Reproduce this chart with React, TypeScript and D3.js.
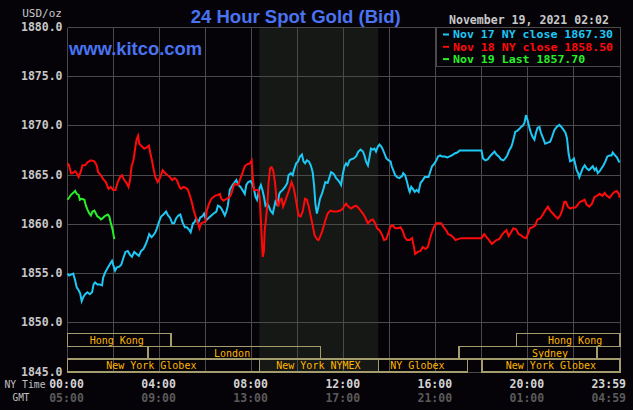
import React from "react";
import * as d3 from "d3";

// ---- data (minutes after NY midnight, price USD/oz) ----
const nov17Series: [number, number][] = [
  [0,1855.0],[4,1854.8],[9,1854.9],[15,1855.0],[20,1854.3],[24,1853.6],[29,1853.3],[33,1853.0],[37,1852.2],[41,1852.6],[46,1852.9],[52,1853.1],[58,1852.9],[64,1853.1],[68,1853.9],[72,1854.1],[78,1853.9],[84,1853.9],[90,1853.8],[93,1854.6],[98,1855.1],[105,1855.6],[111,1856.0],[116,1856.3],[119,1855.9],[124,1855.3],[128,1855.6],[135,1855.7],[140,1855.9],[145,1856.5],[151,1857.2],[157,1857.3],[163,1856.9],[168,1856.7],[174,1857.2],[180,1857.0],[186,1856.8],[192,1857.3],[198,1857.5],[203,1857.9],[208,1858.4],[213,1859.0],[219,1858.7],[224,1858.9],[229,1859.2],[233,1859.6],[238,1860.2],[244,1860.8],[250,1861.0],[257,1861.3],[262,1860.9],[267,1860.7],[273,1860.1],[278,1860.1],[283,1860.6],[289,1860.9],[294,1861.0],[300,1860.2],[306,1859.7],[311,1859.7],[316,1859.5],[321,1859.2],[327,1860.1],[331,1860.2],[335,1860.6],[341,1860.2],[346,1860.7],[351,1860.8],[356,1861.1],[361,1860.4],[369,1860.7],[375,1860.9],[381,1861.1],[388,1861.3],[392,1861.9],[397,1861.8],[401,1861.6],[405,1861.3],[410,1860.9],[414,1861.3],[418,1861.9],[423,1863.5],[430,1864.0],[436,1864.3],[440,1864.5],[445,1864.0],[451,1863.8],[456,1863.5],[462,1863.1],[466,1864.0],[471,1864.3],[477,1864.4],[482,1864.1],[486,1863.6],[490,1862.8],[494,1862.5],[500,1863.6],[504,1864.0],[508,1863.5],[512,1862.8],[516,1861.9],[521,1862.1],[525,1861.8],[529,1861.4],[535,1861.1],[539,1861.8],[543,1862.5],[547,1861.9],[552,1863.1],[555,1863.3],[561,1863.5],[567,1863.8],[573,1864.2],[576,1865.0],[582,1865.2],[587,1865.0],[590,1865.5],[596,1866.2],[601,1866.4],[606,1866.9],[611,1867.1],[615,1866.4],[619,1866.2],[624,1866.5],[629,1866.4],[634,1866.0],[639,1865.3],[643,1863.8],[646,1862.1],[650,1861.1],[654,1861.8],[658,1862.6],[663,1863.1],[667,1863.6],[672,1864.3],[678,1864.2],[683,1864.8],[687,1865.3],[692,1865.2],[696,1865.0],[700,1864.7],[705,1864.5],[709,1864.3],[713,1864.0],[718,1865.2],[722,1865.9],[726,1866.2],[730,1866.0],[735,1866.5],[739,1866.6],[746,1866.7],[752,1866.9],[758,1867.4],[764,1867.6],[770,1867.4],[774,1867.0],[778,1866.4],[783,1866.0],[787,1866.8],[791,1867.7],[796,1867.6],[800,1867.7],[804,1867.4],[809,1867.9],[813,1868.1],[818,1867.9],[822,1867.6],[826,1867.2],[831,1866.7],[837,1866.5],[842,1866.4],[845,1865.9],[851,1865.3],[854,1865.0],[859,1864.8],[865,1864.7],[872,1864.9],[875,1865.2],[880,1865.0],[885,1864.3],[890,1863.5],[892,1863.3],[896,1863.8],[900,1863.6],[905,1863.3],[910,1863.5],[915,1863.3],[920,1864.2],[926,1864.5],[931,1864.8],[936,1864.8],[941,1864.8],[945,1865.3],[950,1865.9],[955,1866.1],[960,1866.4],[966,1866.9],[971,1867.0],[976,1866.9],[983,1866.9],[990,1866.8],[996,1866.9],[1002,1867.0],[1009,1867.2],[1016,1867.3],[1022,1867.5],[1040,1867.5],[1060,1867.5],[1079,1867.5],[1083,1866.7],[1089,1866.5],[1095,1866.6],[1101,1866.9],[1108,1867.2],[1113,1867.4],[1118,1867.1],[1124,1866.9],[1130,1866.6],[1136,1866.5],[1141,1866.7],[1146,1867.0],[1151,1867.5],[1157,1867.9],[1160,1868.3],[1164,1868.9],[1167,1869.4],[1172,1869.5],[1178,1869.7],[1182,1869.9],[1186,1870.0],[1191,1870.3],[1195,1871.1],[1199,1870.6],[1204,1869.8],[1208,1869.3],[1212,1868.9],[1217,1868.6],[1221,1869.3],[1225,1869.8],[1230,1869.9],[1234,1869.3],[1240,1868.7],[1245,1868.2],[1252,1868.3],[1258,1868.4],[1263,1868.9],[1269,1869.6],[1275,1869.9],[1282,1870.1],[1287,1869.9],[1293,1869.6],[1298,1869.3],[1302,1868.7],[1306,1867.2],[1310,1866.4],[1315,1866.5],[1320,1866.7],[1324,1866.0],[1327,1865.5],[1331,1865.2],[1334,1864.8],[1339,1865.3],[1343,1865.7],[1348,1866.0],[1353,1865.7],[1359,1865.5],[1364,1865.7],[1369,1865.9],[1374,1865.5],[1378,1865.7],[1382,1865.2],[1387,1865.4],[1392,1865.7],[1397,1866.0],[1402,1866.4],[1407,1866.9],[1413,1867.0],[1418,1867.0],[1421,1867.3],[1427,1867.0],[1432,1866.8],[1437,1866.4],[1439,1866.3]
];

const nov18Series: [number, number][] = [
  [0,1866.2],[4,1866.0],[9,1865.2],[13,1865.2],[20,1865.4],[24,1865.2],[29,1864.8],[35,1865.4],[39,1866.0],[46,1866.0],[52,1866.3],[61,1866.5],[70,1866.4],[76,1866.0],[80,1865.3],[87,1865.0],[93,1864.6],[100,1864.3],[107,1863.6],[113,1863.8],[119,1863.5],[125,1863.5],[131,1864.3],[137,1864.8],[142,1865.0],[148,1864.5],[154,1864.2],[159,1863.8],[163,1864.5],[167,1865.9],[172,1866.5],[177,1867.9],[180,1868.6],[184,1869.0],[187,1868.2],[194,1867.9],[200,1867.7],[206,1867.8],[212,1868.0],[215,1867.4],[220,1866.5],[225,1865.5],[229,1864.8],[235,1864.3],[241,1864.7],[248,1865.5],[255,1865.2],[261,1865.0],[267,1864.8],[273,1864.5],[279,1864.7],[285,1864.5],[292,1863.8],[296,1863.6],[302,1863.8],[309,1863.7],[314,1863.5],[320,1862.8],[325,1862.1],[329,1861.4],[334,1860.8],[340,1860.1],[344,1859.6],[348,1860.1],[354,1860.2],[360,1860.3],[363,1861.4],[369,1862.1],[375,1862.6],[384,1862.9],[392,1863.0],[397,1863.1],[401,1862.6],[407,1862.4],[414,1862.6],[421,1862.7],[427,1863.1],[432,1863.8],[436,1864.1],[445,1864.0],[449,1864.5],[456,1865.2],[462,1865.9],[468,1866.1],[475,1866.2],[480,1866.5],[482,1865.2],[486,1863.5],[493,1863.5],[497,1863.5],[501,1862.8],[504,1860.4],[507,1858.0],[509,1856.7],[512,1857.3],[514,1859.4],[517,1860.4],[521,1862.1],[524,1864.2],[528,1865.7],[532,1865.8],[536,1865.5],[541,1864.2],[545,1862.5],[549,1861.8],[554,1862.5],[558,1862.6],[562,1861.8],[567,1862.3],[571,1862.8],[576,1863.3],[580,1863.8],[584,1864.3],[589,1863.8],[593,1863.0],[597,1862.1],[602,1860.9],[608,1860.8],[613,1861.3],[619,1862.6],[624,1862.5],[629,1861.8],[634,1860.8],[639,1859.9],[644,1858.9],[650,1858.5],[654,1858.4],[658,1858.7],[663,1859.2],[667,1859.7],[672,1860.4],[678,1861.1],[685,1861.4],[693,1861.3],[702,1861.3],[711,1861.4],[718,1861.6],[720,1861.8],[726,1862.1],[732,1861.8],[739,1861.6],[746,1861.8],[752,1861.9],[758,1861.7],[764,1861.4],[770,1861.1],[776,1860.7],[783,1860.1],[790,1860.4],[796,1860.5],[802,1860.1],[807,1859.6],[813,1859.4],[819,1859.0],[825,1858.4],[831,1858.5],[837,1859.2],[842,1859.8],[848,1859.9],[854,1859.6],[861,1859.6],[868,1859.7],[874,1859.3],[879,1858.7],[885,1858.4],[892,1858.4],[898,1858.6],[903,1857.7],[906,1857.0],[913,1857.2],[920,1857.3],[926,1857.7],[933,1857.5],[939,1857.7],[944,1858.4],[948,1859.0],[955,1859.7],[961,1860.1],[967,1860.1],[974,1860.1],[981,1859.7],[987,1859.4],[992,1859.0],[999,1858.9],[1005,1858.7],[1011,1858.4],[1018,1858.5],[1027,1858.6],[1050,1858.6],[1079,1858.6],[1086,1859.0],[1092,1858.7],[1099,1858.4],[1106,1858.0],[1112,1858.2],[1118,1858.4],[1125,1858.5],[1132,1858.9],[1138,1859.2],[1144,1859.4],[1150,1858.8],[1156,1859.2],[1162,1859.6],[1169,1859.5],[1176,1859.0],[1182,1858.9],[1188,1858.7],[1195,1858.6],[1200,1859.0],[1205,1859.6],[1212,1859.7],[1219,1859.9],[1225,1860.5],[1232,1860.6],[1239,1861.0],[1245,1861.4],[1252,1861.8],[1258,1861.4],[1265,1861.1],[1272,1860.8],[1278,1860.6],[1284,1860.9],[1289,1861.4],[1295,1862.3],[1299,1862.3],[1304,1861.8],[1310,1861.6],[1317,1861.7],[1324,1861.7],[1330,1862.0],[1336,1862.3],[1343,1862.4],[1348,1862.5],[1353,1862.0],[1360,1861.8],[1367,1862.1],[1374,1862.8],[1380,1862.9],[1387,1863.1],[1394,1862.9],[1400,1863.2],[1406,1862.9],[1413,1862.7],[1420,1863.1],[1426,1863.3],[1432,1863.4],[1437,1863.1],[1439,1862.7]
];

const nov19Series: [number, number][] = [
  [0,1862.5],[4,1862.7],[9,1863.0],[15,1863.2],[20,1863.4],[24,1863.1],[29,1863.0],[32,1862.5],[37,1862.6],[44,1862.5],[48,1861.9],[52,1861.5],[57,1861.1],[61,1860.9],[65,1861.3],[70,1861.4],[74,1861.1],[78,1860.8],[83,1860.7],[87,1860.5],[91,1860.6],[96,1860.8],[100,1860.9],[105,1861.0],[109,1860.8],[113,1860.1],[118,1859.4],[120,1858.9],[122,1858.5]
];

const legendLabels = ["Nov 17 NY close 1867.30", "Nov 18 NY close 1858.50", "Nov 19 Last 1857.70"];
const seriesColors = ["#1ec8f5", "#ff0a0a", "#28f028"];

const yTicks = [1845, 1850, 1855, 1860, 1865, 1870, 1875, 1880];
const xTickHours = [0, 4, 8, 12, 16, 20, 24];
const nyTimeLabels = ["00:00", "04:00", "08:00", "12:00", "16:00", "20:00", "23:59"];
const gmtLabels = ["05:00", "09:00", "13:00", "17:00", "21:00", "01:00", "04:59"];

// trading sessions
const sessionRows = [0, 0, 1, 1, 2, 2, 2, 2];
const sessionStarts = [0, 19.5, 3.5, 17, 0, 8.333, 13.5, 18];
const sessionEnds = [4.5, 24, 11, 23, 8.333, 13.5, 17.37, 24];
const sessionLabelHours = [2.14, 22.05, 7.15, 20.96, 3.64, 10.9, 15.2, 21.0];
const sessionLabels = ["Hong Kong", "Hong Kong", "London", "Sydney", "New York Globex", "New York NYMEX", "NY Globex", "New York Globex"];

const comexHours = [8.333, 13.5];

export default function App() {
  const W = 633, H = 410;
  const left = 67.5, right = 620, top = 27.5, bottom = 372;
  const x = d3.scaleLinear().domain([0, 24 * 60]).range([left, right]);
  const y = d3.scaleLinear().domain([1845, 1880]).range([bottom, top]);
  const line = d3.line<[number, number]>().x(d => x(d[0])).y(d => y(d[1])).curve(d3.curveLinear);
  const gridHours = d3.range(0, 25, 2);
  const mono = "'DejaVu Sans Mono', 'Liberation Mono', monospace";
  const sans = "'Liberation Sans', Arial, sans-serif";
  const rowH = (bottom - 333.3) / 3;
  const series = [nov17Series, nov18Series, nov19Series];

  return (
    <svg width={W} height={H} style={{ position: "absolute", left: 0, top: 0, background: "#050308" }}>
      <rect x={0} y={0} width={W} height={H} fill="#050308" />
      <rect x={x(comexHours[0] * 60)} y={top} width={x(comexHours[1] * 60) - x(comexHours[0] * 60)} height={bottom - top} fill="#151815" />
      <g stroke="#4a4a4a" strokeWidth={1} shapeRendering="crispEdges">
        {yTicks.map(t => <line key={"h" + t} x1={left} x2={right} y1={y(t)} y2={y(t)} />)}
        {gridHours.map(h => <line key={"v" + h} x1={x(h * 60)} x2={x(h * 60)} y1={top} y2={bottom} />)}
      </g>
      <g>
        {sessionLabels.map((lab, i) => {
          const y0 = 333.3 + sessionRows[i] * rowH;
          const x0 = x(sessionStarts[i] * 60), x1 = x(sessionEnds[i] * 60);
          return (
            <g key={"s" + i}>
              <rect x={x0} y={y0} width={x1 - x0} height={rowH} fill="none" stroke="#a39c6c" strokeWidth={1.3} shapeRendering="crispEdges" />
              <text x={x(sessionLabelHours[i] * 60)} y={y0 + 10.3} textAnchor="middle" fontFamily={mono} fontSize={10} fill="#ffb600">{lab}</text>
            </g>
          );
        })}
      </g>
      {series.map((s, i) => (
        <path key={"p" + i} d={line(s) || ""} fill="none" stroke={seriesColors[i]} strokeWidth={2} strokeLinejoin="miter" />
      ))}
      <rect x={436.5} y={top} width={right - 436.5} height={39} fill="#050308" stroke="#4a4a4a" strokeWidth={1} shapeRendering="crispEdges" />
      {legendLabels.map((lab, i) => (
        <g key={"l" + i}>
          <rect x={443} y={33.5 + i * 12.3} width={6} height={2} fill={seriesColors[i]} />
          <text x={453} y={38.3 + i * 12.3} fontFamily={mono} fontWeight="bold" fontSize={10.5} fill={seriesColors[i]} textLength={lab.length * 6.96} lengthAdjust="spacingAndGlyphs">{lab}</text>
        </g>
      ))}
      {yTicks.map(t => (
        <text key={"yl" + t} x={62.5} y={y(t) + 3.5} textAnchor="end" fontFamily={mono} fontWeight="bold" fontSize={11.5} fill="#c8c8c8">{t.toFixed(1)}</text>
      ))}
      <text x={62} y={16.5} textAnchor="end" fontFamily={mono} fontSize={11} fill="#c8c8c8">USD/oz</text>
      {xTickHours.map((h, i) => {
        const last = i === xTickHours.length - 1;
        const xx = last ? 626 : x(h * 60) - 1;
        return (
          <g key={"xl" + h}>
            <text x={xx} y={387.5} textAnchor={last ? "end" : "middle"} fontFamily={mono} fontWeight="bold" fontSize={11.5} fill="#d2d2d2">{nyTimeLabels[i]}</text>
            <text x={xx} y={401.5} textAnchor={last ? "end" : "middle"} fontFamily={mono} fontWeight="bold" fontSize={11.5} fill="#5a5a5a">{gmtLabels[i]}</text>
          </g>
        );
      })}
      <text x={4.5} y={388} fontFamily={mono} fontSize={10.5} fill="#c0c0c0" textLength={41} lengthAdjust="spacingAndGlyphs">NY Time</text>
      <text x={12.5} y={401} fontFamily={mono} fontSize={10.5} fill="#c0c0c0" textLength={17} lengthAdjust="spacingAndGlyphs">GMT</text>
      <text x={190.7} y={22.5} fontFamily={sans} fontWeight="bold" fontSize={18.5} fill="#4a73f2" textLength={210} lengthAdjust="spacingAndGlyphs">24 Hour Spot Gold (Bid)</text>
      <text x={69} y={55} fontFamily={sans} fontWeight="bold" fontSize={18.5} fill="#4a73f2" textLength={133} lengthAdjust="spacingAndGlyphs">www.kitco.com</text>
      <text x={449} y={24} fontFamily={mono} fontWeight="bold" fontSize={11.5} fill="#c8c8c8" textLength={160} lengthAdjust="spacingAndGlyphs">November 19, 2021 02:02</text>
    </svg>
  );
}
